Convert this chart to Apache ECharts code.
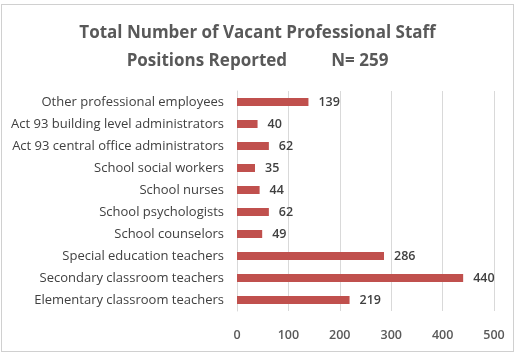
<!DOCTYPE html>
<html>
<head>
<meta charset="utf-8">
<script src="https://cdn.jsdelivr.net/npm/echarts@6/dist/echarts.min.js"></script>
<style>
  html, body { margin: 0; padding: 0; background: #fff; }
  body { width: 522px; height: 354px; position: relative; overflow: hidden; }
  .frame {
    position: absolute; left: 1px; top: 4px; width: 511px; height: 346px;
    border: 1px solid #d0d0d0; background: #fff;
  }
  #chart { width: 511px; height: 346px; }
</style>
</head>
<body>
<div class="frame"><div id="chart"></div></div>
<script>
// categories bottom -> top, like the Excel axis
const categories = [
  'Elementary classroom teachers',
  'Secondary classroom teachers',
  'Special education teachers',
  'School counselors',
  'School psychologists',
  'School nurses',
  'School social workers',
  'Act 93 central office administrators',
  'Act 93 building level administrators',
  'Other professional employees'
]
const vacancies = [219, 440, 286, 49, 62, 44, 35, 62, 40, 139]
const xTicks = [0, 100, 200, 300, 400, 500]

const fontFamily = '"Open Sans", sans-serif'

const chart = echarts.init(document.getElementById('chart'))

chart.setOption({
  animation: false,
  title: {
    text: 'Total Number of Vacant Professional Staff\nPositions Reported          N= 259',
    left: 'center',
    top: 9,
    textStyle: {
      fontFamily: fontFamily,
      fontSize: 17,
      fontWeight: 'bold',
      color: '#595959',
      lineHeight: 28
    }
  },
  grid: {
    left: 235,
    right: 19,
    top: 86,
    bottom: 40
  },
  xAxis: {
    type: 'value',
    min: xTicks[0],
    max: xTicks[xTicks.length - 1],
    interval: 100,
    axisLine: { show: false },
    axisTick: { show: false },
    axisLabel: {
      color: '#595959',
      fontFamily: fontFamily,
      fontSize: 12.5,
      fontWeight: 600,
      margin: 18
    },
    splitLine: { lineStyle: { color: '#d9d9d9' } }
  },
  yAxis: {
    type: 'category',
    data: categories,
    axisLine: { lineStyle: { color: '#d9d9d9' } },
    axisTick: { show: false },
    axisLabel: {
      color: '#404040',
      fontFamily: fontFamily,
      fontSize: 13,
      margin: 13
    }
  },
  series: [
    {
      type: 'bar',
      data: vacancies,
      barWidth: 8,
      itemStyle: { color: '#c0504d' },
      label: {
        show: true,
        position: 'right',
        distance: 10,
        color: '#404040',
        fontFamily: fontFamily,
        fontSize: 12.5,
        fontWeight: 600
      }
    }
  ]
})
</script>
</body>
</html>
